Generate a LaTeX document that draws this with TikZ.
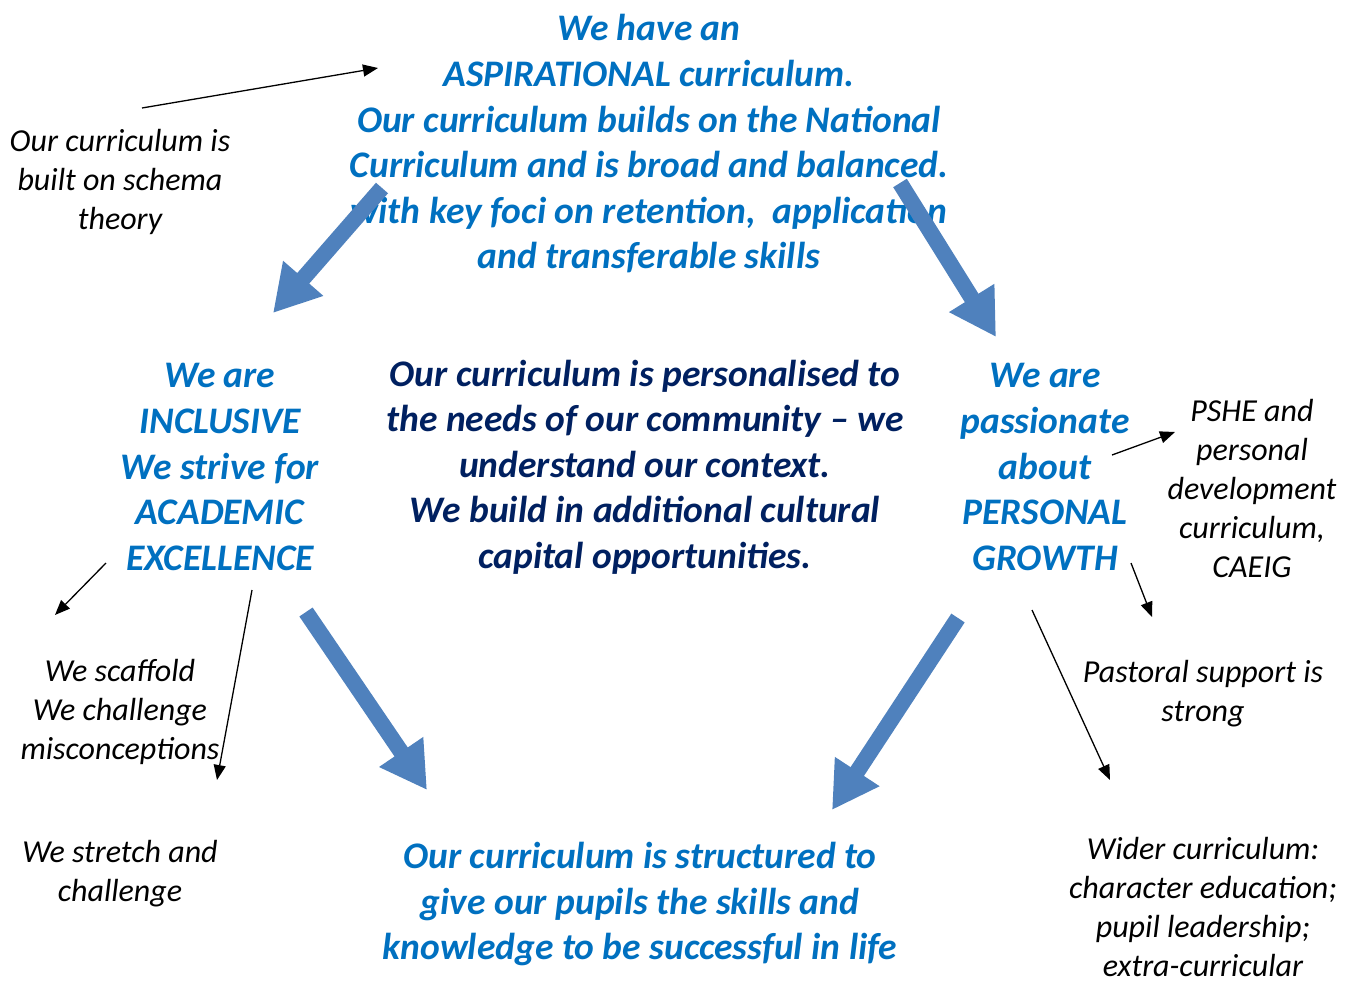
\documentclass[tikz,border=0pt]{standalone}
\usepackage{fontspec}
\setmainfont{Carlito}
\usetikzlibrary{arrows.meta}
\definecolor{ourblue}{RGB}{0,112,192}
\definecolor{ournavy}{RGB}{0,32,96}
\definecolor{arrowblue}{RGB}{79,129,189}

\begin{document}
\begin{tikzpicture}[x=1pt,y=-1pt]
\useasboundingbox (0,0) rectangle (1357,981);
\begin{scope}[every node/.style={align=center,text=ourblue,font=\fontsize{37.5}{45.6}\selectfont\bfseries\itshape}]
    \node (aspire) at (649,144) {We have an\\ASPIRATIONAL curriculum.\\Our curriculum builds on the National\\Curriculum and is broad and balanced.\\with key foci on retention,\ \ application\\and transferable skills};
    \node (inclusive) at (220,467) {We are\\INCLUSIVE\\We strive for\\ACADEMIC\\EXCELLENCE};
    \node (growth) at (1045,467) {We are\\passionate\\about\\PERSONAL\\GROWTH};
    \node (structured) at (640,904) {Our curriculum is structured to\\give our pupils the skills and\\knowledge to be successful in life};
    \node[text=ournavy] (personal) at (645,467) {Our curriculum is personalised to\\the needs of our community -- we\\understand our context.\\We build in additional cultural\\capital opportunities.};
\end{scope}
\begin{scope}[every node/.style={align=center,font=\fontsize{32}{39}\selectfont\itshape}]
    \node (schema) at (120,182) {Our curriculum is\\built on schema\\theory};
    \node (pshe) at (1252,488) {PSHE and\\personal\\development\\curriculum,\\CAEIG};
    \node (pastoral) at (1203,694) {Pastoral support is\\strong};
    \node (scaffold) at (120,712) {We scaffold\\We challenge\\misconceptions};
    \node (stretch) at (120,874) {We stretch and\\challenge};
    \node (wider) at (1203,907) {Wider curriculum:\\character education;\\pupil leadership;\\extra-curricular};
\end{scope}
% ends of the thin arrows
\coordinate (s1) at (142,108);  \coordinate (e1) at (378,68);
\coordinate (s2) at (106,563);  \coordinate (e2) at (55,615);
\coordinate (s3) at (252,590);  \coordinate (e3) at (217,780);
\coordinate (s4) at (1112,455); \coordinate (e4) at (1175,432);
\coordinate (s5) at (1131,563); \coordinate (e5) at (1152,617);
\coordinate (s6) at (1032,610); \coordinate (e6) at (1110,780);
% ends of the big arrows
\coordinate (A1) at (382,188);  \coordinate (A2) at (273,313);
\coordinate (B1) at (900,183);  \coordinate (B2) at (996,337);
\coordinate (C1) at (306,612);  \coordinate (C2) at (427,790);
\coordinate (D1) at (958,618);  \coordinate (D2) at (832,810);
\begin{scope}[>={Triangle[length=15pt,width=12pt]},
              every edge/.style={draw=black,line width=1.3pt}]
    \path [->] (s1) edge (e1);
    \path [->] (s2) edge (e2);
    \path [->] (s3) edge (e3);
    \path [->] (s4) edge (e4);
    \path [->] (s5) edge (e5);
    \path [->] (s6) edge (e6);
\end{scope}
\begin{scope}[>={Triangle[length=46pt,width=50pt]},
              every edge/.style={draw=arrowblue,fill=arrowblue,line width=16pt}]
    \path [->] (A1) edge (A2);
    \path [->] (B1) edge (B2);
    \path [->] (C1) edge (C2);
    \path [->] (D1) edge (D2);
\end{scope}
\end{tikzpicture}
\end{document}
